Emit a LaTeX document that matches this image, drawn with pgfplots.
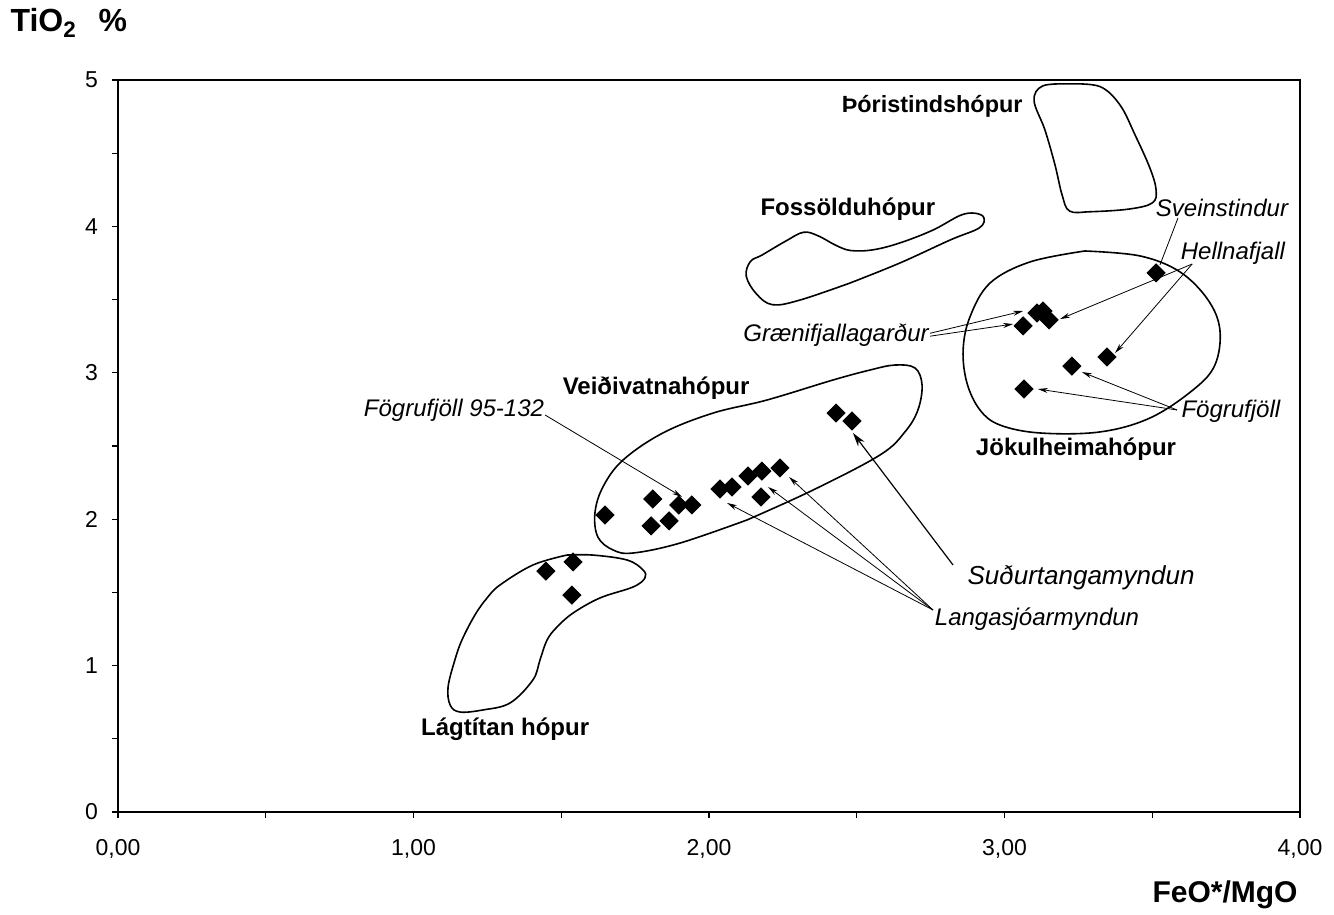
\documentclass[border=0pt]{standalone}
\usepackage{fontspec}
\setmainfont{Liberation Sans}
\usepackage{pgfplots}
\pgfplotsset{compat=1.18}
\usetikzlibrary{arrows.meta}
\newcommand{\blbl}{\bfseries\fontsize{12}{14}\selectfont}
\newcommand{\ilbl}{\itshape\fontsize{12}{14}\selectfont}
\begin{document}
\begin{tikzpicture}
\useasboundingbox (-59pt,-51.5pt) rectangle (608pt,406pt);
\begin{axis}[
 at={(0,0)}, anchor=south west, scale only axis,
 width=591pt, height=366pt,
 xmin=0, xmax=4, ymin=0, ymax=5,
 xtick={0,1,2,3,4}, xticklabels={{0,00},{1,00},{2,00},{3,00},{4,00}},
 ytick={0,1,2,3,4,5},
 minor xtick={0.5,1.5,2.5,3.5}, minor ytick={0.5,1.5,2.5,3.5,4.5},
 tick align=outside, xtick pos=lower, ytick pos=left,
 major tick length=3pt, minor tick length=3pt,
 tick style={black, line width=0.6pt},
 axis line style={line width=0.7pt},
 ticklabel style={font=\fontsize{11.5}{13}\selectfont},
 /pgf/number format/assume math mode=true,
 xticklabel style={yshift=-7pt},
 yticklabel style={xshift=-3.5pt},
 clip=false,
]
% group outlines
\addplot[smooth, tension=0.6, line width=0.8pt, no marks] coordinates {
 (3.222,4.973) (3.323,4.955) (3.391,4.829) (3.442,4.624) (3.492,4.399) (3.513,4.249)
 (3.500,4.160) (3.420,4.118) (3.289,4.100) (3.220,4.105) (3.195,4.214) (3.171,4.419)
 (3.137,4.658) (3.100,4.860) (3.130,4.960) (3.222,4.973)};
\addplot[smooth, tension=0.6, line width=0.8pt, no marks] coordinates {
 (2.477,3.613) (2.646,3.750) (2.816,3.907) (2.915,3.990) (2.930,4.060) (2.900,4.090)
 (2.850,4.075) (2.758,3.975) (2.646,3.887) (2.555,3.840) (2.480,3.835) (2.430,3.870)
 (2.370,3.935) (2.320,3.960) (2.260,3.900) (2.180,3.805) (2.140,3.760)
 (2.126,3.660) (2.160,3.540) (2.215,3.465) (2.308,3.497) (2.477,3.613)};
\addplot[smooth, tension=0.6, line width=0.8pt, no marks] coordinates {
 (2.129,1.995) (2.352,2.199) (2.579,2.439) (2.663,2.596) (2.707,2.746) (2.721,2.917)
 (2.697,3.033) (2.629,3.053) (2.545,3.019) (2.420,2.951) (2.196,2.814) (2.014,2.725)
 (1.844,2.589) (1.709,2.404) (1.641,2.220) (1.614,2.042) (1.624,1.878) (1.675,1.790)
 (1.743,1.769) (1.902,1.837) (2.129,1.995)};
\addplot[smooth, tension=0.6, line width=0.8pt, no marks] coordinates {
 (1.519,1.755) (1.607,1.755) (1.723,1.721) (1.777,1.653) (1.783,1.598) (1.743,1.537)
 (1.631,1.462) (1.540,1.359) (1.486,1.264) (1.452,1.175) (1.428,1.038) (1.404,0.902)
 (1.327,0.745) (1.235,0.697) (1.157,0.683) (1.124,0.731) (1.117,0.854) (1.140,1.038)
 (1.164,1.175) (1.208,1.346) (1.249,1.462) (1.293,1.551) (1.404,1.687) (1.519,1.755)};
\addplot[smooth, tension=0.6, line width=0.8pt, no marks] coordinates {
 (3.272,3.832) (3.459,3.798) (3.594,3.689) (3.689,3.497) (3.729,3.292) (3.712,3.053)
 (3.638,2.883) (3.492,2.691) (3.323,2.596) (3.120,2.589) (2.985,2.643) (2.917,2.746)
 (2.873,2.930) (2.860,3.156) (2.883,3.381) (2.951,3.613) (3.086,3.757) (3.272,3.832)};
% samples
\addplot[only marks, mark=square*, mark size=3.2pt, mark options={rotate=45, fill=black, draw=black}] coordinates {
 (1.448,1.646) (1.540,1.708) (1.536,1.482)
 (1.648,2.029) (1.810,2.138) (1.804,1.954) (1.865,1.988) (1.898,2.097) (1.942,2.097)
 (2.037,2.206) (2.078,2.220) (2.132,2.295) (2.179,2.329) (2.240,2.350) (2.176,2.152)
 (2.430,2.725) (2.484,2.671)
 (3.513,3.682) (3.063,3.320) (3.110,3.408) (3.130,3.422) (3.151,3.361)
 (3.347,3.108) (3.228,3.046) (3.066,2.889)};
% arrows
\draw[line width=0.4pt] (axis cs:3.587,4.057) -- (axis cs:3.526,3.736);
\draw[-{Stealth[length=5pt,width=2.5pt]}, line width=0.4pt] (axis cs:3.635,3.743) -- (axis cs:3.188,3.367);
\draw[-{Stealth[length=5pt,width=2.5pt]}, line width=0.4pt] (axis cs:3.635,3.743) -- (axis cs:3.374,3.135);
\draw[-{Stealth[length=5pt,width=2.5pt]}, line width=0.4pt] (axis cs:2.748,3.270) -- (axis cs:3.063,3.422);
\draw[-{Stealth[length=5pt,width=2.5pt]}, line width=0.4pt] (axis cs:2.748,3.250) -- (axis cs:3.029,3.333);
\draw[-{Stealth[length=5pt,width=2.5pt]}, line width=0.4pt] (axis cs:3.584,2.746) -- (axis cs:3.262,3.005);
\draw[-{Stealth[length=5pt,width=2.5pt]}, line width=0.4pt] (axis cs:3.584,2.746) -- (axis cs:3.113,2.889);
\draw[-{Stealth[length=5pt,width=2.5pt]}, line width=0.4pt] (axis cs:1.445,2.712) -- (axis cs:1.909,2.152);
\draw[-{Stealth[length=7pt,width=4pt]}, line width=0.6pt] (axis cs:2.826,1.687) -- (axis cs:2.487,2.589);
\draw[-{Stealth[length=5pt,width=2.5pt]}, line width=0.4pt] (axis cs:2.758,1.380) -- (axis cs:2.061,2.111);
\draw[-{Stealth[length=5pt,width=2.5pt]}, line width=0.4pt] (axis cs:2.758,1.380) -- (axis cs:2.200,2.220);
\draw[-{Stealth[length=5pt,width=2.5pt]}, line width=0.4pt] (axis cs:2.758,1.380) -- (axis cs:2.271,2.288);
% labels
\node[font=\bfseries\fontsize{11.7}{13}\selectfont] at (axis cs:2.755,4.822) {Þóristindshópur};
\node[font=\blbl] at (axis cs:2.470,4.119) {Fossölduhópur};
\node[font=\blbl] at (axis cs:1.821,2.896) {Veiðivatnahópur};
\node[font=\blbl] at (axis cs:3.242,2.480) {Jökulheimahópur};
\node[font=\blbl] at (axis cs:1.310,0.567) {Lágtítan hópur};
\node[font=\ilbl] at (axis cs:3.736,4.126) {Sveinstindur};
\node[font=\ilbl] at (axis cs:3.773,3.818) {Hellnafjall};
\node[font=\ilbl] at (axis cs:2.430,3.258) {Grænifjallagarður};
\node[font=\ilbl] at (axis cs:1.137,2.746) {Fögrufjöll 95-132};
\node[font=\ilbl] at (axis cs:3.766,2.739) {Fögrufjöll};
\node[font=\itshape\fontsize{13}{15}\selectfont] at (axis cs:3.259,1.598) {Suðurtangamyndun};
\node[font=\ilbl] at (axis cs:3.110,1.318) {Langasjóarmyndun};
% axis titles
\node[anchor=base west, inner sep=0pt, font=\bfseries\fontsize{16}{18}\selectfont] at (axis cs:-0.365,5.328) {TiO\textsubscript{2}\hspace{11pt}\%};
\node[anchor=base east, inner sep=0pt, font=\bfseries\fontsize{15}{17}\selectfont] at (axis cs:3.993,-0.615) {FeO*/MgO};
\end{axis}
\end{tikzpicture}
\end{document}
